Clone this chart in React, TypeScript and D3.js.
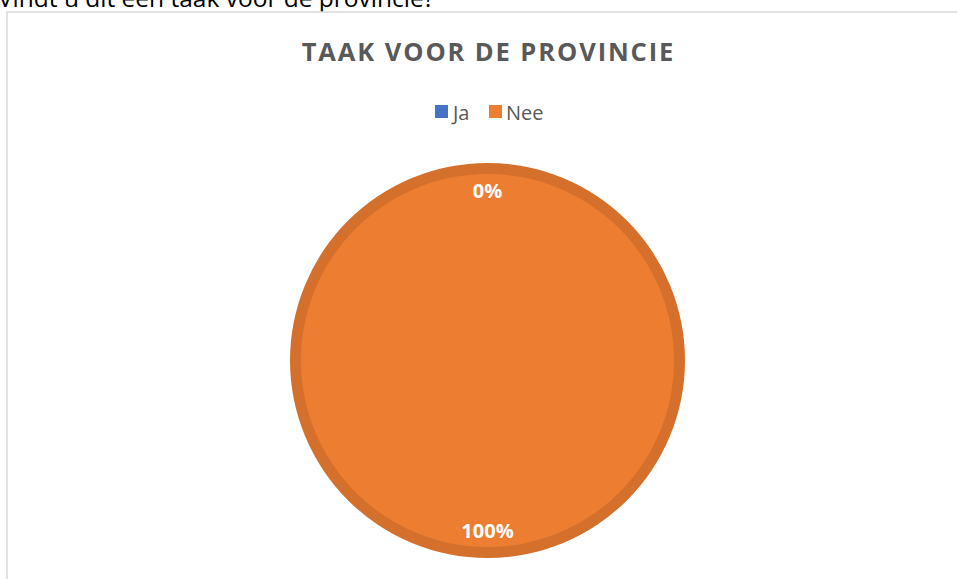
import React from "react";
import * as d3 from "d3";

const categories = ["Ja", "Nee"];
const values = [0, 100];
const colors = ["#4472C4", "#ED7D31"];
const title = "TAAK VOOR DE PROVINCIE";
const question = "Vindt u dit een taak voor de provincie?";

export default function App() {
  const W = 957, H = 579;
  const cx = 487.5, cy = 360.5, r = 197.5;
  const font = "'Open Sans', 'Noto Sans', sans-serif";
  const total = d3.sum(values);
  const pie = d3.pie<number>().sort(null).value((d) => d);
  const arcs = pie(values);
  const arcGen = d3.arc<d3.PieArcDatum<number>>().innerRadius(0).outerRadius(r);
  const innerGen = d3.arc<d3.PieArcDatum<number>>().innerRadius(0).outerRadius(r - 11);
  const labelGen = d3.arc<d3.PieArcDatum<number>>().innerRadius(170).outerRadius(170);
  const darker = (c: string) => d3.color(c)!.darker(0.3).formatHex();

  return (
    <svg width={W} height={H} style={{ position: "absolute", left: 0, top: 0, display: "block", background: "#fff" }}>
      <text x={-2} y={7} fontFamily={font} fontSize={24.5} fill="#000">{question}</text>
      <rect x={7} y={12} width={W} height={H} fill="#fff" stroke="#d9d9d9" strokeWidth={1.5} />
      <text x={cx + 1} y={51} textAnchor="middle" dominantBaseline="central" fontFamily={font} fontWeight={700} fontSize={25.5} letterSpacing={1.9} fill="#595959">{title}</text>
      {(() => {
        const items = [
          { x: 435, tx: 453 },
          { x: 489, tx: 506 },
        ];
        return categories.map((c, i) => (
          <g key={c}>
            <rect x={items[i].x} y={105} width={13} height={13} fill={colors[i]} />
            <text x={items[i].tx} y={112} dominantBaseline="central" fontFamily={font} fontSize={20} fill="#595959">{c}</text>
          </g>
        ));
      })()}
      <g transform={`translate(${cx},${cy})`}>
        {arcs.map((a, i) => (
          <path key={"o" + i} d={arcGen(a) || ""} fill={darker(colors[i])} />
        ))}
        {arcs.map((a, i) => (
          <path key={"i" + i} d={innerGen(a) || ""} fill={colors[i]} />
        ))}
        {arcs.map((a, i) => {
          const [lx, ly] = labelGen.centroid(a);
          return (
            <text key={"l" + i} x={lx} y={ly} textAnchor="middle" dominantBaseline="central" fontFamily={font} fontWeight={700} fontSize={20} fill="#fff">
              {Math.round((values[i] / total) * 100) + "%"}
            </text>
          );
        })}
      </g>
    </svg>
  );
}
